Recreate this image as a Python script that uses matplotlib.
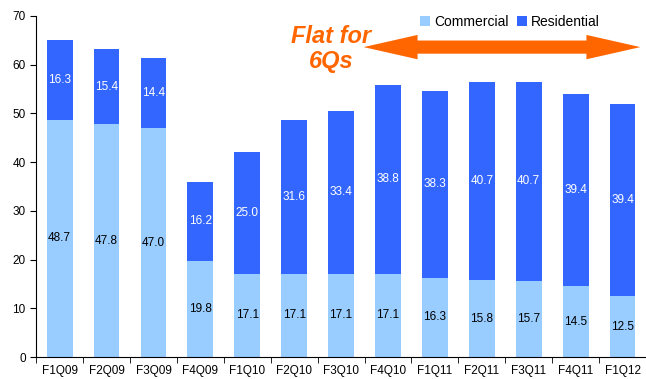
import matplotlib.pyplot as plt
import matplotlib.patches as mpatches
import numpy as np

plt.rcParams['font.family'] = ['Liberation Sans', 'DejaVu Sans']

# Data
quarters = ["F1Q09", "F2Q09", "F3Q09", "F4Q09", "F1Q10", "F2Q10", "F3Q10",
            "F4Q10", "F1Q11", "F2Q11", "F3Q11", "F4Q11", "F1Q12"]
commercial = [48.7, 47.8, 47.0, 19.8, 17.1, 17.1, 17.1, 17.1, 16.3, 15.8, 15.7, 14.5, 12.5]
residential = [16.3, 15.4, 14.4, 16.2, 25.0, 31.6, 33.4, 38.8, 38.3, 40.7, 40.7, 39.4, 39.4]

light = "#99CCFF"
dark = "#3366FF"
orange = "#FF6600"

fig = plt.figure(figsize=(6.46, 3.79), dpi=100)
ax = fig.add_axes([0.056, 0.058, 0.944, 0.9])

x = np.arange(len(quarters))
com = np.array(commercial)
res = np.array(residential)

ax.bar(x, com, width=0.55, color=light, label="Commercial")
ax.bar(x, res, width=0.55, bottom=com, color=dark, label="Residential")

# Value labels in the middle of each segment
for i in range(len(x)):
    ax.text(x[i], com[i] / 2, f"{com[i]:.1f}", ha="center", va="center",
            fontsize=8.5, color="black")
    ax.text(x[i], com[i] + res[i] / 2, f"{res[i]:.1f}", ha="center", va="center",
            fontsize=8.5, color="white")

# Axes styling
ax.set_xlim(-0.5, len(x) - 0.5)
ax.set_ylim(0, 70)
ax.set_yticks(range(0, 71, 10))
ax.set_xticks(x)
ax.set_xticklabels(quarters)
ax.tick_params(axis="x", length=0, labelsize=8.5, pad=6)
ax.set_xticks(np.arange(-0.5, len(x), 1), minor=True)
ax.tick_params(axis="x", which="minor", length=4, direction="out")
ax.tick_params(axis="y", length=4, direction="out", labelsize=8.5)
ax.spines["top"].set_visible(False)
ax.spines["right"].set_visible(False)

# Legend
ax.legend(loc="upper right", bbox_to_anchor=(0.945, 1.04), ncol=2, frameon=False,
          fontsize=10, handlelength=0.7, handleheight=0.7, handletextpad=0.3,
          columnspacing=0.6)

# "Flat for 6Qs" annotation with a double-headed arrow (one polygon)
x0, x1 = 6.48, 12.38        # arrow tips
y_arr = 63.6
shaft, head_w, head_l = 2.7, 5.0, 1.15
arrow_pts = [
    (x0, y_arr),
    (x0 + head_l, y_arr + head_w / 2), (x0 + head_l, y_arr + shaft / 2),
    (x1 - head_l, y_arr + shaft / 2), (x1 - head_l, y_arr + head_w / 2),
    (x1, y_arr),
    (x1 - head_l, y_arr - head_w / 2), (x1 - head_l, y_arr - shaft / 2),
    (x0 + head_l, y_arr - shaft / 2), (x0 + head_l, y_arr - head_w / 2),
]
ax.add_patch(mpatches.Polygon(arrow_pts, closed=True, color=orange, lw=0,
                              clip_on=False))
ax.text(5.78, 63.2, "Flat for\n6Qs", ha="center", va="center", fontsize=17,
        fontweight="bold", fontstyle="italic", color=orange, linespacing=1.1)

fig.savefig("out.png", dpi=100)
